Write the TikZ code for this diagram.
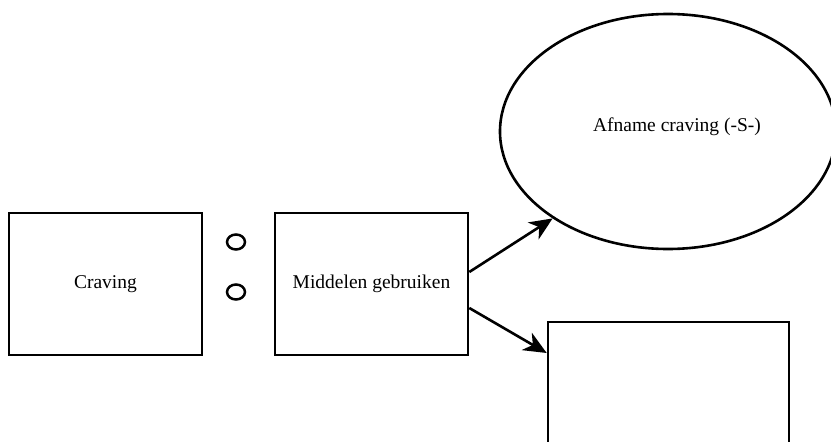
\documentclass[tikz,border=0pt]{standalone}
\usepackage{fontspec}
\setmainfont{Liberation Serif}
\usetikzlibrary{shapes.geometric,arrows.meta}
\begin{document}
\begin{tikzpicture}[x=1pt,y=-1pt,
  every node/.style={font=\fontsize{19.5}{23}\selectfont, line width=2.6pt},
  box/.style={draw, rectangle, minimum width=193pt, minimum height=142pt, inner sep=0pt},
  bubble/.style={draw, ellipse, minimum width=336pt, minimum height=235pt, inner sep=0pt},
  dot/.style={draw, ellipse, minimum width=18pt, minimum height=15pt, inner sep=0pt, line width=2.5pt},
  link/.style={line width=2.6pt, -{Stealth[length=23pt, width=20pt, inset=7pt]}}]
  \useasboundingbox (0,0) rectangle (831,442);
  \clip (0,0) rectangle (831,442);
  \fill[white] (0,0) rectangle (831,442);

  % the two boxes on the left and the pair of small rings between them
  \node[box] (craving) at (105.5,284) {Craving};
  \node[box] (use) at (371.5,284) {Middelen gebruiken};
  \node[dot] (ringA) at (236,242) {};
  \node[dot] (ringB) at (236,292) {};

  % outcome: large ellipse and an empty box below it
  \node[bubble] (drop) at (668,131.5) {};
  \node at (677,127) {Afname craving (-S-)};
  \node[box, minimum width=241pt] (empty) at (668.5,393) {};

  % arrows from the action to both outcomes
  \draw[link] ([yshift=12pt]use.east) -- (drop.217);
  \draw[link] ([yshift=-24pt]use.east) -- ([yshift=40pt]empty.west);
\end{tikzpicture}
\end{document}
